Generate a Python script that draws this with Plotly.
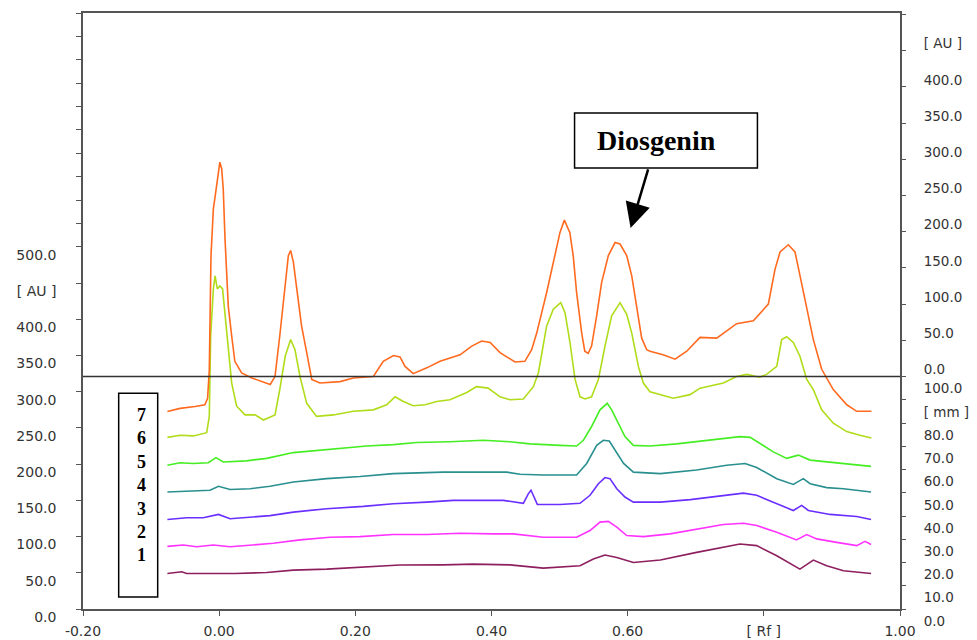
import plotly.graph_objects as go
import numpy as np

# ---------------- data ----------------
track_names = ["1", "2", "3", "4", "5", "6", "7"]
track_colors = ["#8e1f5f", "#ff33ff", "#6a2eff", "#2a8f8f", "#44ee22", "#b0dc1a", "#ff6a1f"]

track1_rf = [-0.076, -0.055, -0.0477, 0.0233, 0.0698, 0.109, 0.158, 0.2167, 0.2656, 0.329, 0.373, 0.427,
             0.476, 0.530, 0.5496, 0.5667, 0.584, 0.6084, 0.648, 0.7013, 0.7406, 0.765, 0.7895, 0.819,
             0.853, 0.8727, 0.8923, 0.917, 0.9575]
track1_au = [49, 51.4, 49, 49, 50.4, 53.7, 55, 58.3, 60.7, 61, 62, 61,
             56.5, 59.7, 69, 74.6, 71, 64.3, 67.6, 78.2, 85, 89.8, 87.5, 73.6,
             55, 67.6, 59.7, 52.8, 49]

track2_rf = [-0.076, -0.0527, -0.033, -0.0086, 0.016, 0.0453, 0.0795, 0.1187, 0.1628, 0.207, 0.2558,
             0.3047, 0.3538, 0.4027, 0.432, 0.476, 0.525, 0.5447, 0.5594, 0.5716, 0.584, 0.5986, 0.623,
             0.6622, 0.7013, 0.7406, 0.770, 0.7895, 0.819, 0.848, 0.863, 0.8776, 0.907, 0.9364, 0.9486, 0.9575]
track2_au = [86.5, 88.4, 86, 88.4, 86, 88.4, 90.7, 95.4, 99, 100, 102.8,
             102.8, 104.6, 103.7, 103.7, 99, 99, 108.3, 120, 121, 113, 101.4, 100,
             103.7, 110.7, 116.7, 118.5, 115.3, 106, 95.4, 102.8, 96.8, 92, 87.5, 93.5, 89]

track3_rf = [-0.076, -0.0477, -0.0233, -0.001, 0.016, 0.0453, 0.0747, 0.109, 0.158, 0.2117, 0.2558,
             0.3047, 0.344, 0.4174, 0.4468, 0.454, 0.458, 0.4625, 0.4673, 0.5006, 0.530, 0.5447, 0.557,
             0.5667, 0.574, 0.584, 0.596, 0.6084, 0.648, 0.692, 0.7308, 0.770, 0.7895, 0.819, 0.8433,
             0.8556, 0.8654, 0.8973, 0.9364, 0.9575]
track3_au = [123.6, 126, 126, 130.6, 124.6, 126.8, 129, 133.8, 138.5, 141.7, 145.4,
             147.6, 150, 150, 146, 159, 164, 154.6, 144.4, 144.4, 146, 157, 173,
             181.5, 180, 166, 154.6, 147.6, 147.6, 151, 155.6, 160, 157, 145.4, 136,
             143, 136, 130.6, 127.8, 123.6]

track4_rf = [-0.076, -0.043, -0.0135, -0.001, 0.016, 0.0453, 0.0747, 0.109, 0.158, 0.207, 0.2558,
             0.329, 0.4224, 0.442, 0.476, 0.525, 0.5398, 0.5545, 0.5643, 0.573, 0.5815, 0.594, 0.6084,
             0.648, 0.7013, 0.7454, 0.7725, 0.7895, 0.819, 0.8433, 0.858, 0.868, 0.8923, 0.917, 0.9575]
track4_au = [161.5, 163, 164, 169.4, 165, 166, 169.4, 175.4, 180, 183, 187,
             189, 189, 186, 185, 185, 201, 226, 233, 232, 219, 201, 189,
             187, 192, 198.6, 201, 195.4, 180, 172, 180, 173, 167.6, 166, 161.5]

track5_rf = [-0.076, -0.0575, -0.038, -0.016, -0.0047, 0.006, 0.040, 0.0698, 0.109, 0.143, 0.1775,
             0.2167, 0.2558, 0.290, 0.339, 0.388, 0.427, 0.4566, 0.5006, 0.525, 0.535, 0.547, 0.5594,
             0.570, 0.5765, 0.5863, 0.596, 0.6084, 0.6328, 0.672, 0.721, 0.765, 0.780, 0.814, 0.8336,
             0.8507, 0.868, 0.8973, 0.9218, 0.9575]
track5_au = [198.6, 202, 201, 202, 209, 203, 204.6, 208, 216, 219, 222,
             225, 227, 230, 231, 233, 231, 228, 226, 225, 233, 252, 275,
             284, 275, 256.5, 238, 226, 225, 228, 233, 238, 237, 217, 208,
             212.5, 205.6, 203, 201, 197]

track6_rf = [-0.076, -0.0575, -0.038, -0.0183, -0.0145, -0.0125, -0.0085, -0.006, -0.0027, 0.001,
             0.005, 0.0086, 0.0134, 0.0184, 0.0257, 0.038, 0.0527, 0.065, 0.082, 0.089, 0.097, 0.105,
             0.1114, 0.1187, 0.1286, 0.143, 0.1677, 0.197, 0.2265, 0.246, 0.2583, 0.2705, 0.285,
             0.3024, 0.3195, 0.339, 0.3636, 0.378, 0.395, 0.4125, 0.427, 0.4468, 0.4615, 0.4688,
             0.481, 0.4908, 0.5017, 0.508, 0.5153, 0.5227, 0.530, 0.5374, 0.547, 0.557, 0.5667,
             0.5765, 0.5888, 0.5986, 0.606, 0.6157, 0.623, 0.6328, 0.667, 0.6916, 0.7063, 0.7406,
             0.760, 0.7748, 0.794, 0.804, 0.819, 0.8262, 0.8336, 0.8433, 0.853, 0.863, 0.8727, 0.885,
             0.902, 0.9218, 0.941, 0.958]
track6_au = [237, 240, 239, 243.5, 266, 377, 442, 460, 442, 446,
             442, 405, 358, 312, 280, 268, 268, 261, 268, 303, 349, 372,
             358, 321, 284, 266, 268, 273, 275, 282, 293, 286.5, 280.6,
             282, 286.5, 289, 299, 307, 305, 293, 289, 290, 307, 326,
             391, 414, 423, 409, 368, 317, 293, 290, 293, 317, 363,
             405, 423, 407, 381, 335, 312, 300, 291, 296, 305, 312,
             321, 324, 320, 324, 335, 372, 376, 368, 349, 317, 303, 275,
             256.5, 245, 240, 236]

track7_rf = [-0.076, -0.0575, -0.0355, -0.021, -0.017, -0.0145, -0.012, -0.0085, -0.006, -0.0027,
             0.001, 0.0037, 0.006, 0.0086, 0.0134, 0.0184, 0.023, 0.033, 0.048, 0.075, 0.082, 0.089,
             0.097, 0.1016, 0.105, 0.109, 0.114, 0.121, 0.1286, 0.136, 0.148, 0.1775, 0.197, 0.2265,
             0.241, 0.256, 0.2656, 0.273, 0.285, 0.305, 0.3244, 0.3538, 0.371, 0.3856, 0.398, 0.4125,
             0.4346, 0.449, 0.459, 0.4664, 0.481, 0.4933, 0.5006, 0.507, 0.515, 0.520, 0.525, 0.5325,
             0.537, 0.542, 0.547, 0.5545, 0.5618, 0.5716, 0.5815, 0.5888, 0.5986, 0.606, 0.6133,
             0.6206, 0.628, 0.6328, 0.652, 0.6696, 0.6868, 0.7063, 0.7308, 0.760, 0.7846, 0.8066,
             0.8164, 0.8238, 0.836, 0.8458, 0.8532, 0.863, 0.8727, 0.885, 0.902, 0.9218, 0.9364, 0.958]
track7_au = [272.6, 277, 279.6, 282, 291, 330, 488, 553, 569, 590,
             617, 608, 580, 511, 418, 377, 342, 326, 319, 310, 321, 377,
             442, 488, 495, 479, 442, 391, 354, 317, 312, 314, 319, 321,
             342, 350, 348, 335, 325, 333, 342, 351, 363, 370, 368, 354,
             341, 342, 358, 381, 437, 488, 520, 537, 520, 488, 437, 381,
             356, 353, 363, 405, 451, 488, 506, 504, 488, 460, 414,
             374, 358, 356, 351, 345, 356, 375, 374, 394, 398, 421,
             469, 493, 503, 493, 460, 418, 372, 331, 303, 282, 273, 273]

tracks_rf = [track1_rf, track2_rf, track3_rf, track4_rf, track5_rf, track6_rf, track7_rf]
tracks_au = [track1_au, track2_au, track3_au, track4_au, track5_au, track6_au, track7_au]

# axis tick labels
x_tickvals = [-0.20, 0.00, 0.20, 0.40, 0.60, 0.80, 1.00]
x_ticktext = ["-0.20", "0.00", "0.20", "0.40", "0.60", "[ Rf ]", "1.00"]

left_tickvals = [0, 50, 100, 150, 200, 250, 300, 350, 400, 450, 500]
left_ticktext = ["0.0", "50.0", "100.0", "150.0", "200.0", "250.0", "300.0", "350.0", "400.0", "[ AU ]", "500.0"]

right_au_vals = [0, 50, 100, 150, 200, 250, 300, 350, 400, 450, 500]
right_au_text = ["0.0", "50.0", "100.0", "150.0", "200.0", "250.0", "300.0", "350.0", "400.0", "[ AU ]", ""]

right_mm_vals = [0, 10, 20, 30, 40, 50, 60, 70, 80, 90, 100]
right_mm_text = ["0.0", "10.0", "20.0", "30.0", "40.0", "50.0", "60.0", "70.0", "80.0", "[ mm ]", "100.0"]

# ---------------- scales ----------------
Y_TOP = 823.0           # left-axis value at the top of the frame
UPPER_AU_ZERO = 321.0   # left-axis value of the upper-right [AU] zero (separator line)
MM_PER_UNIT = UPPER_AU_ZERO / 100.0

upper_left_ticks = list(np.linspace(500, Y_TOP, 11)[1:])
y1_vals = left_tickvals + upper_left_ticks
y1_text = left_ticktext + [""] * len(upper_left_ticks)

y2_vals = [UPPER_AU_ZERO + v for v in right_au_vals]
y3_vals = [v * MM_PER_UNIT for v in right_mm_vals]

fig = go.Figure()
for name, rf, au, col in zip(track_names, tracks_rf, tracks_au, track_colors):
    fig.add_trace(go.Scatter(x=rf, y=au, mode="lines", name=name,
                             line=dict(color=col, width=1.6), showlegend=False))

fig.add_trace(go.Scatter(x=[None], y=[None], yaxis="y2", showlegend=False, hoverinfo="skip"))
fig.add_trace(go.Scatter(x=[None], y=[None], yaxis="y3", showlegend=False, hoverinfo="skip"))

AXC = "#555555"
TF = dict(family="DejaVu Sans", size=14, color="#333333")
TFR = dict(family="DejaVu Sans", size=13.5, color="#333333")

# the page body has an 8 px margin; sizes/margins compensate so the frame sits where the reference has it
fig.update_layout(
    width=969, height=632, autosize=False,
    margin=dict(l=75, r=77, t=5, b=31, autoexpand=False),
    paper_bgcolor="white", plot_bgcolor="white",
    showlegend=False,
    xaxis=dict(range=[-0.2, 1.0], tickvals=x_tickvals, ticktext=x_ticktext, automargin=False,
               ticks="outside", ticklen=5, tickcolor=AXC, showgrid=False, zeroline=False,
               showline=True, linecolor=AXC, linewidth=1.5, mirror=True, tickfont=TF,
               ticklabelstandoff=3),
    yaxis=dict(range=[0, Y_TOP], tickvals=y1_vals, ticktext=y1_text, automargin=False,
               ticks="outside", ticklen=5, tickcolor=AXC, showgrid=False, zeroline=False,
               showline=True, linecolor=AXC, linewidth=1.5, mirror=True, tickfont=TF,
               ticklabelshift=8, ticklabelstandoff=17),
    yaxis2=dict(range=[0, Y_TOP], overlaying="y", side="right", tickvals=y2_vals, ticktext=right_au_text,
                automargin=False,
                ticks="outside", ticklen=5, tickcolor=AXC, showgrid=False, zeroline=False,
                showline=False, tickfont=TFR, ticklabelshift=-7, ticklabelstandoff=15),
    yaxis3=dict(range=[0, Y_TOP], overlaying="y", side="right", tickvals=y3_vals, ticktext=right_mm_text,
                automargin=False,
                ticks="outside", ticklen=5, tickcolor=AXC, showgrid=False, zeroline=False,
                showline=False, tickfont=TFR, ticklabelshift=12, ticklabelstandoff=15),
)

# separator line between lower and upper scale
fig.add_shape(type="line", xref="paper", x0=0, x1=1, yref="y", y0=UPPER_AU_ZERO, y1=UPPER_AU_ZERO,
              line=dict(color="#333333", width=1.5))

# track number box
fig.add_shape(type="rect", xref="x", yref="y", x0=-0.1476, x1=-0.0903, y0=16.6, y1=298,
              line=dict(color="black", width=1.5), fillcolor="white", layer="above")
fig.add_annotation(x=-0.1138, y=170.6, xref="x", yref="y", showarrow=False,
                   text="<b>" + "<br>".join(reversed(track_names)) + "</b>",
                   font=dict(family="Liberation Serif", size=18, color="black"),
                   xanchor="center", yanchor="middle")

# Diosgenin label box and arrow
fig.add_shape(type="rect", xref="x", yref="y", x0=0.522, x1=0.7906, y0=609, y1=685,
              line=dict(color="black", width=1.5), fillcolor="white", layer="above")
fig.add_annotation(x=0.6424, y=647, xref="x", yref="y", showarrow=False,
                   text="<b>Diosgenin</b>",
                   font=dict(family="Liberation Serif", size=28, color="black"),
                   xanchor="center", yanchor="middle")
fig.add_annotation(x=0.6043, y=526, ax=0.6307, ay=609, xref="x", yref="y", axref="x", ayref="y",
                   text="", showarrow=True, arrowhead=2, arrowsize=2, arrowwidth=2.5,
                   arrowcolor="black")

fig.write_html("out.html")
